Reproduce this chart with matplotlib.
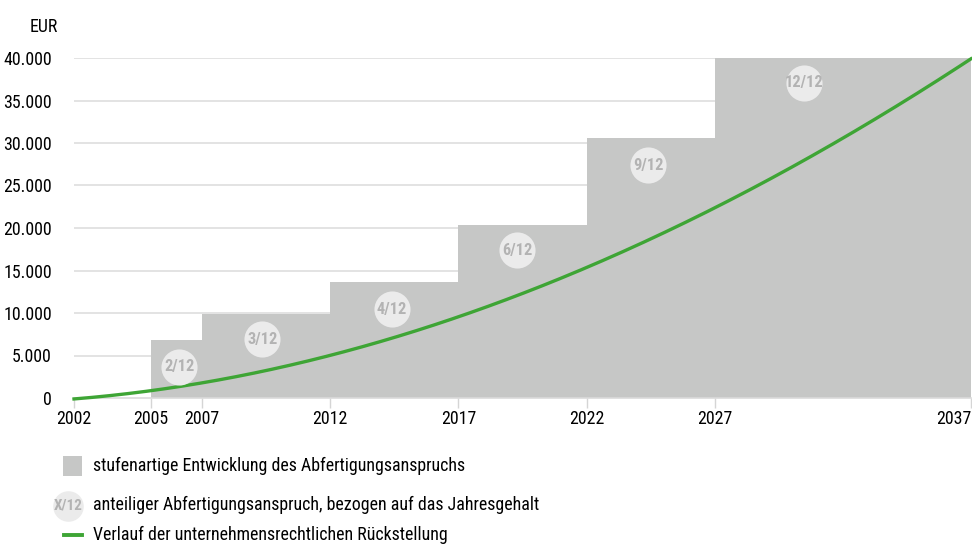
import matplotlib
matplotlib.use("Agg")
import matplotlib.pyplot as plt
from matplotlib import font_manager as fm
from matplotlib.patches import Rectangle
from matplotlib.lines import Line2D
import numpy as np

# Stufen des Abfertigungsanspruchs
step_years = [2005, 2007, 2012, 2017, 2022, 2027, 2037]
step_values = [6800, 9900, 13650, 20350, 30600, 40000]

# Rückstellung (gelesen an den Jahren)
curve_years = [2002, 2005, 2007, 2012, 2017, 2022, 2027, 2032, 2037]
curve_values = [0, 850, 1550, 5100, 9550, 15550, 22300, 30400, 40000]

# Anteilige Ansprüche
badge_labels = ["2/12", "3/12", "4/12", "6/12", "9/12", "12/12"]
badge_x = [2006.1, 2009.35, 2014.4, 2019.3, 2024.4, 2030.5]
badge_y = [3650, 6940, 10470, 17410, 27410, 37060]

xticks = [2002, 2005, 2007, 2012, 2017, 2022, 2027, 2037]
yticks = np.arange(0, 40001, 5000)

legend_texts = ["stufenartige Entwicklung des Abfertigungsanspruchs",
                "anteiliger Abfertigungsanspruch, bezogen auf das Jahresgehalt",
                "Verlauf der unternehmensrechtlichen Rückstellung"]

GREY = "#c6c7c6"
GREEN = "#3ea535"
BADGE = "#ebebeb"
BADGE_TXT = "#b3b3b3"

# schmale Schrift suchen, falls vorhanden
family, stretch = "Roboto", "normal"
fonts = fm.fontManager.ttflist
for want in ["Roboto Condensed", "Liberation Sans Narrow", "Open Sans Condensed",
             "Noto Sans Condensed", "DejaVu Sans Condensed"]:
    if any(f.name == want for f in fonts):
        family = want
        break
else:
    for f in fonts:
        if f.name in ("Roboto", "Noto Sans", "Open Sans", "DejaVu Sans") and \
                str(f.stretch) in ("condensed", "semi-condensed", "75", "87.5"):
            family, stretch = f.name, f.stretch
            break
plt.rcParams['font.family'] = [family, 'DejaVu Sans']
plt.rcParams['font.stretch'] = stretch

fig = plt.figure(figsize=(9.72, 5.45), dpi=100)

# Schriftgröße so wählen, dass die Legendenzeile etwa so breit ist wie im Original
probe = fig.text(0, 0, legend_texts[0], fontsize=14)
fig.canvas.draw()
w = probe.get_window_extent().width
probe.remove()
FS = min(15, 14 * 353 / w) * 1.06

ax = fig.add_axes([74/972, 1-398/545, 897/972, 340/545])

for yv in yticks[1:]:
    ax.axhline(yv, color="#dedede", lw=1.2, zorder=0)

ax.stairs(step_values, step_years, fill=True, color=GREY, lw=0, zorder=1)

xs = np.linspace(2002, 2037, 300)
coef = np.polyfit(curve_years, curve_values, 3)
ax.plot(xs, np.polyval(coef, xs), color=GREEN, lw=2.4, zorder=3, clip_on=False)

ax.set_xlim(2002, 2037)
ax.set_ylim(0, 40000)

for lab, bx, by in zip(badge_labels, badge_x, badge_y):
    ax.plot([bx], [by], marker="o", markersize=26, color=BADGE, markeredgewidth=0, zorder=4)
    ax.text(bx, by, lab, ha="center", va="center", fontsize=FS * 0.92, fontweight="bold",
            color=BADGE_TXT, zorder=5)

for s in ["top", "right", "left"]:
    ax.spines[s].set_visible(False)
ax.spines["bottom"].set_color("#dadada")
ax.spines["bottom"].set_linewidth(1.2)

ax.set_xticks(xticks)
ax.set_xticklabels([str(t) for t in xticks])
ax.set_yticks(yticks)
ax.set_yticklabels(["0" if v == 0 else f"{v//1000}.000" for v in yticks])
ax.tick_params(axis="x", length=7, width=1, color="#d5d5d5", labelsize=FS, pad=2)
ax.tick_params(axis="y", length=0, labelsize=FS, pad=16)
last = ax.get_xticklabels()[-1]
last.set_horizontalalignment("right")
last.set_x(2037.6)

fig.text(58/972, 1-27/545, "EUR", ha="right", va="center", fontsize=FS)

# Legende
fig.patches.append(Rectangle((63/972, 1-476/545), 19/972, 20/545, transform=fig.transFigure,
                             color=GREY, lw=0))
fig.text(93/972, 1-466/545, legend_texts[0], va="center", fontsize=FS)
fig.add_artist(Line2D([68/972], [1-506/545], marker="o", markersize=22, color=BADGE,
                      markeredgewidth=0, transform=fig.transFigure))
fig.text(68/972, 1-506/545, "X/12", ha="center", va="center", fontsize=FS * 0.85,
         fontweight="bold", color=BADGE_TXT)
fig.text(93/972, 1-505/545, legend_texts[1], va="center", fontsize=FS)
fig.add_artist(Line2D([64/972, 82/972], [1-535/545, 1-535/545], color=GREEN, lw=2.8,
                      transform=fig.transFigure))
fig.text(93/972, 1-535/545, legend_texts[2], va="center", fontsize=FS)

fig.savefig("out.png", dpi=100)
